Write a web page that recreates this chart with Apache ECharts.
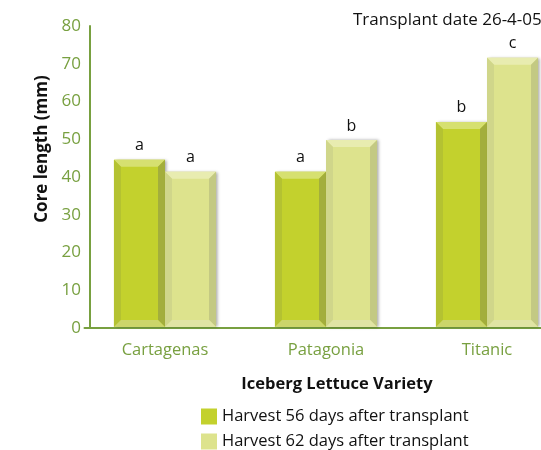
<!DOCTYPE html>
<html>
<head>
<meta charset="utf-8">
<script src="https://cdn.jsdelivr.net/npm/echarts@6/dist/echarts.min.js"></script>
<style>
  html, body { margin: 0; padding: 0; background: #fff; }
  #chart { width: 541px; height: 450px; }
</style>
</head>
<body>
<div id="chart"></div>
<script>
// data
var varieties = ['Cartagenas', 'Patagonia', 'Titanic'];
var harvest56 = [44.6, 41.4, 54.6];
var harvest62 = [41.4, 49.8, 71.6];
var letters56 = ['a', 'a', 'b'];
var letters62 = ['a', 'b', 'c'];
var seriesNames = ['Harvest 56 days after transplant', 'Harvest 62 days after transplant'];
var yTicks = [0, 10, 20, 30, 40, 50, 60, 70, 80];

var FONT = 'Open Sans';
var GREEN = '#78a040';

// bevel colours per series: face, top, left, right, bottom
var palettes = [
    {face: '#c3d12d', top: '#d6e070', left: '#b4c232', right: '#a3ae3c', bottom: '#cbd56a'},
    {face: '#dde38d', top: '#e8ecb0', left: '#d0d68a', right: '#c3c983', bottom: '#e0e4a4'}
];

function makeRender(idx, letters) {
    var pal = palettes[idx];
    return function (params, api) {
        var cat = api.value(0);
        var val = api.value(1);
        var base = api.coord([cat, 0]);
        var top = api.coord([cat, val]);
        var bw = api.size([1, 0])[0] * 0.317;
        var x0 = idx === 0 ? base[0] - bw : base[0];
        var x1 = x0 + bw;
        var y0 = top[1];
        var y1 = base[1] - 1;
        var b = 7;
        return {
            type: 'group',
            children: [
                {type: 'rect', shape: {x: x0, y: y0, width: bw, height: y1 - y0},
                    style: {fill: pal.face, shadowBlur: 3, shadowOffsetX: 2, shadowColor: 'rgba(0,0,0,0.35)'}},
                {type: 'polygon', shape: {points: [[x0, y0], [x1, y0], [x1 - b, y0 + b], [x0 + b, y0 + b]]},
                    style: {fill: pal.top}},
                {type: 'polygon', shape: {points: [[x0, y0], [x0 + b, y0 + b], [x0 + b, y1 - b], [x0, y1]]},
                    style: {fill: pal.left}},
                {type: 'polygon', shape: {points: [[x1, y0], [x1, y1], [x1 - b, y1 - b], [x1 - b, y0 + b]]},
                    style: {fill: pal.right}},
                {type: 'polygon', shape: {points: [[x0, y1], [x0 + b, y1 - b], [x1 - b, y1 - b], [x1, y1]]},
                    style: {fill: pal.bottom}},
                {type: 'text', x: (x0 + x1) / 2, y: y0 - 6,
                    style: {text: letters[params.dataIndex], fill: '#111', font: '16px "' + FONT + '"',
                        align: 'center', verticalAlign: 'bottom'}}
            ]
        };
    };
}

function toData(arr) {
    return arr.map(function (v, i) { return [i, v]; });
}

function legendFor(name, top) {
    return {
        left: 196,
        top: top,
        itemWidth: 16,
        itemHeight: 16,
        icon: 'rect',
        textStyle: {fontSize: 16.5, color: '#111', fontFamily: FONT},
        data: [name]
    };
}

var chart = echarts.init(document.getElementById('chart'));
chart.setOption({
    animation: false,
    textStyle: {fontFamily: FONT},
    // the original picture is cropped on the right, so the plot runs past the edge
    grid: {left: 84.5, top: 26, right: -26.5, bottom: 122, outerBoundsMode: 'none', containLabel: false},
    legend: [legendFor(seriesNames[0], 403), legendFor(seriesNames[1], 428)],
    xAxis: {
        type: 'category',
        data: varieties,
        boundaryGap: true,
        axisLine: {lineStyle: {color: GREEN, width: 2}},
        axisTick: {show: false},
        axisLabel: {color: GREEN, fontSize: 16.5, margin: 14},
        name: 'Iceberg Lettuce Variety',
        nameLocation: 'middle',
        nameGap: 48,
        nameTextStyle: {color: '#111', fontSize: 16.5, fontWeight: 'bold', padding: [0, 0, 0, 22]}
    },
    yAxis: {
        type: 'value',
        min: yTicks[0],
        max: yTicks[yTicks.length - 1],
        interval: 10,
        offset: -5.5,
        axisLine: {show: true, lineStyle: {color: GREEN, width: 2}},
        axisTick: {show: false},
        splitLine: {show: false},
        axisLabel: {color: GREEN, fontSize: 17, margin: 9}
    },
    graphic: [
        {type: 'text', left: 353, top: 12,
            style: {text: 'Transplant date 26-4-05', fill: '#111', font: '17px "' + FONT + '"'}},
        {type: 'text', x: 42, y: 149, rotation: Math.PI / 2,
            style: {text: 'Core length (mm)', fill: '#111', font: 'bold 17px "' + FONT + '"',
                align: 'center', verticalAlign: 'middle'}}
    ],
    series: [
        {name: seriesNames[0], type: 'custom', renderItem: makeRender(0, letters56),
            itemStyle: {color: palettes[0].face}, encode: {x: 0, y: 1}, data: toData(harvest56)},
        {name: seriesNames[1], type: 'custom', renderItem: makeRender(1, letters62),
            itemStyle: {color: palettes[1].face}, encode: {x: 0, y: 1}, data: toData(harvest62)}
    ]
});
</script>
</body>
</html>
